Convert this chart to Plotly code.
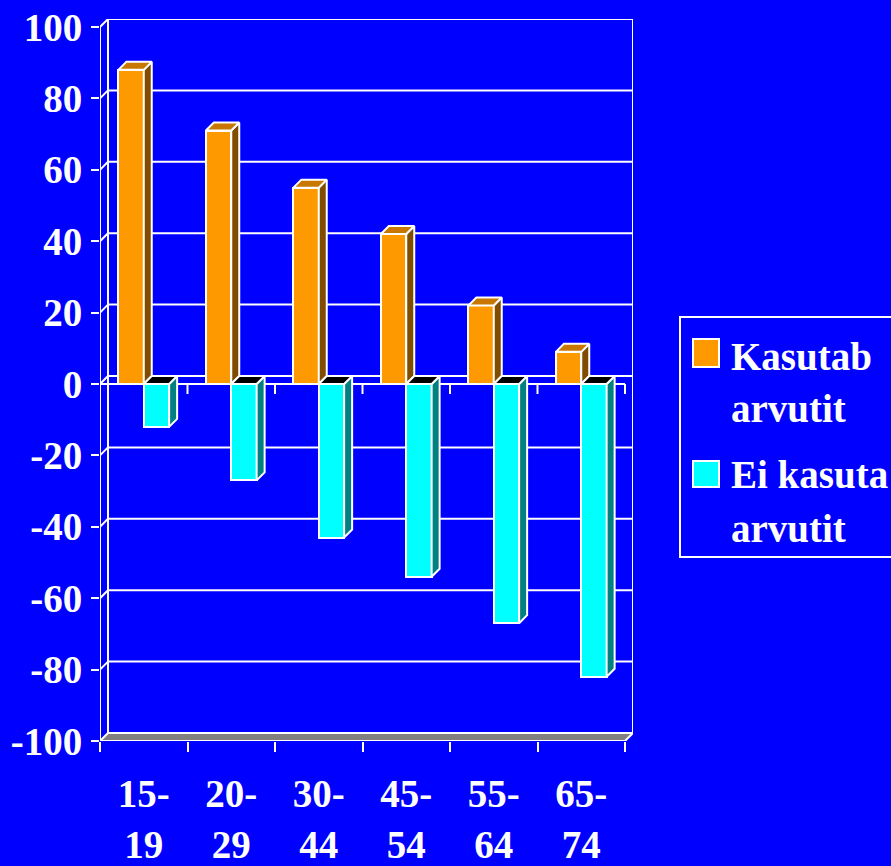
"""Arvuti kasutamine vanuserühmade kaupa — 3D-laadne tulpdiagramm sinisel taustal."""

import plotly.graph_objects as go

# -- Andmed -----------------------------------------------------------------
age_groups = ["15-19", "20-29", "30-44", "45-54", "55-64", "65-74"]
kasutab = [88, 71, 55, 42, 22, 9]
ei_kasuta = [-12, -27, -43, -54, -67, -82]
series_names = ["Kasutab<br>arvutit", "Ei kasuta<br>arvutit"]
y_ticks = [-100, -80, -60, -40, -20, 0, 20, 40, 60, 80, 100]

# -- Stiil ------------------------------------------------------------------
BLUE = "#0000FF"
WHITE = "#FFFFFF"
ORANGE, ORANGE_TOP, ORANGE_SIDE = "#FF9900", "#C87800", "#804C00"
CYAN, CYAN_TOP, CYAN_SIDE = "#00FFFF", "#000000", "#008080"
FLOOR = "#808080"
FONT = "Liberation Serif, Times New Roman, serif"

W = 0.29                # laius kategooria ühikutes (üks tulp)
DX = 8 / 87.5           # sügavus x-ühikutes (~8 px)
DY = 8 / 3.57           # sügavus y-ühikutes (~8 px)
Y_MIN, Y_MAX = y_ticks[0], y_ticks[-1]

xs = list(range(len(age_groups)))
x_lo, x_hi = -0.5, len(age_groups) - 0.5


def _faces(values, left_offset, kind):
    """Tulpade pealmised või külgmised tahud polügoonidena (None eraldab)."""
    px, py = [], []
    for c, v in zip(xs, values):
        x0, x1 = c + left_offset, c + left_offset + W
        if kind == "top":
            top = max(v, 0)
            poly = [(x0, top), (x1, top), (x1 + DX, top + DY), (x0 + DX, top + DY)]
        else:
            poly = [(x1, 0), (x1, v), (x1 + DX, v + DY), (x1 + DX, DY)]
        for a, b in poly + [poly[0]]:
            px.append(a)
            py.append(b)
        px.append(None)
        py.append(None)
    return px, py


fig = go.Figure()

# Esitahud
fig.add_trace(go.Bar(
    x=[c - W / 2 for c in xs], y=kasutab, width=W,
    marker={"color": ORANGE, "line": {"color": WHITE, "width": 2}},
    name="Kasutab arvutit", showlegend=False,
))
fig.add_trace(go.Bar(
    x=[c + W / 2 for c in xs], y=ei_kasuta, width=W,
    marker={"color": CYAN, "line": {"color": WHITE, "width": 2}},
    name="Ei kasuta arvutit", showlegend=False,
))

# Külg- ja pealmised tahud
for values, off, side_col, top_col in [
    (kasutab, -W, ORANGE_SIDE, ORANGE_TOP),
    (ei_kasuta, 0.0, CYAN_SIDE, CYAN_TOP),
]:
    for kind, col in [("side", side_col), ("top", top_col)]:
        fx, fy = _faces(values, off, kind)
        fig.add_trace(go.Scatter(
            x=fx, y=fy, mode="lines", fill="toself", fillcolor=col,
            line={"color": WHITE, "width": 2},
            hoverinfo="skip", showlegend=False,
        ))

# -- Tagasein, põrand, abijooned (kujundid taustal) -------------------------
line = {"color": WHITE, "width": 2}
shapes = []
# põrand
shapes.append(dict(
    type="path", xref="x", yref="y", layer="below",
    path=(f"M{x_lo},{Y_MIN} L{x_hi},{Y_MIN} L{x_hi + DX},{Y_MIN + DY} "
          f"L{x_lo + DX},{Y_MIN + DY} Z"),
    fillcolor=FLOOR, line=line,
))
# tagaseina servad
shapes.append(dict(
    type="path", xref="x", yref="y", layer="below",
    path=(f"M{x_lo + DX},{Y_MIN + DY} L{x_lo + DX},{Y_MAX + DY} "
          f"L{x_hi + DX},{Y_MAX + DY} L{x_hi + DX},{Y_MIN + DY}"),
    line=line,
))
# ruudustik tagaseinal + diagonaalid külgseinal
for g in y_ticks[1:]:
    shapes.append(dict(type="line", xref="x", yref="y", layer="below",
                       x0=x_lo, y0=g, x1=x_lo + DX, y1=g + DY, line=line))
    shapes.append(dict(type="line", xref="x", yref="y", layer="below",
                       x0=x_lo + DX, y0=g + DY, x1=x_hi + DX, y1=g + DY, line=line))
# esitelg
shapes.append(dict(type="line", xref="x", yref="y", layer="below",
                   x0=x_lo, y0=Y_MIN, x1=x_lo, y1=Y_MAX, line=line))
# nulljoon ja kategooriate piirid
shapes.append(dict(type="line", xref="x", yref="y", layer="below",
                   x0=x_lo, y0=0, x1=x_hi, y1=0, line=line))
for c in xs:
    shapes.append(dict(type="line", xref="x", yref="y", layer="below",
                       x0=c + 0.5, y0=0, x1=c + 0.5, y1=-10 / 3.57, line=line))

# -- Legend (käsitsi, et ruudud oleksid suured) ------------------------------
def _px(p):
    return (p - 100) / 533


def _py(p):
    return (741 - p) / 722


shapes.append(dict(type="rect", xref="paper", yref="paper",
                   x0=_px(680), x1=_px(905), y0=_py(557), y1=_py(317),
                   line=line, fillcolor=BLUE))
annotations = []
for (top, bot), col, name, centers in [
    ((339, 367), ORANGE, series_names[0], (356, 408)),
    ((461, 487), CYAN, series_names[1], (474, 528)),
]:
    shapes.append(dict(type="rect", xref="paper", yref="paper",
                       x0=_px(693), x1=_px(719), y0=_py(bot), y1=_py(top),
                       line=line, fillcolor=col))
    for text, cy in zip(name.split("<br>"), centers):
        annotations.append(dict(
            xref="paper", yref="paper", x=_px(729), y=_py(cy),
            xanchor="left", yanchor="middle", showarrow=False, text=text,
            font={"family": FONT, "size": 39, "color": WHITE, "weight": "bold"},
        ))

fig.update_layout(
    width=891, height=866,
    margin={"l": 100, "r": 258, "t": 19, "b": 125},
    paper_bgcolor=BLUE, plot_bgcolor=BLUE,
    barmode="overlay", bargap=0,
    shapes=shapes, annotations=annotations,
    showlegend=False,
)
fig.update_xaxes(
    range=[x_lo, x_hi + DX], showgrid=False, zeroline=False, showline=False,
    tickmode="array", tickvals=xs,
    ticktext=[a.replace("-", "-<br>") for a in age_groups],
    ticks="", ticklabelstandoff=26,
    minor={"tickmode": "array", "tickvals": [c - 0.5 for c in xs] + [x_hi],
           "ticks": "outside", "ticklen": 10, "tickwidth": 2, "tickcolor": WHITE},
    tickfont={"family": FONT, "size": 39, "color": WHITE, "weight": "bold"},
    automargin=False,
)
fig.update_yaxes(
    range=[Y_MIN, Y_MAX + DY], showgrid=False, zeroline=False, showline=False,
    tickmode="array", tickvals=y_ticks, ticktext=[str(v) for v in y_ticks],
    ticks="outside", ticklen=8, tickwidth=2, tickcolor=WHITE,
    ticklabelstandoff=1,
    tickfont={"family": FONT, "size": 39, "color": WHITE, "weight": "bold"},
    automargin=False,
)

fig.write_html(
    "out.html",
    config={"displayModeBar": False},
    post_script="document.body.style.margin='0';document.body.style.overflow='hidden';",
)
